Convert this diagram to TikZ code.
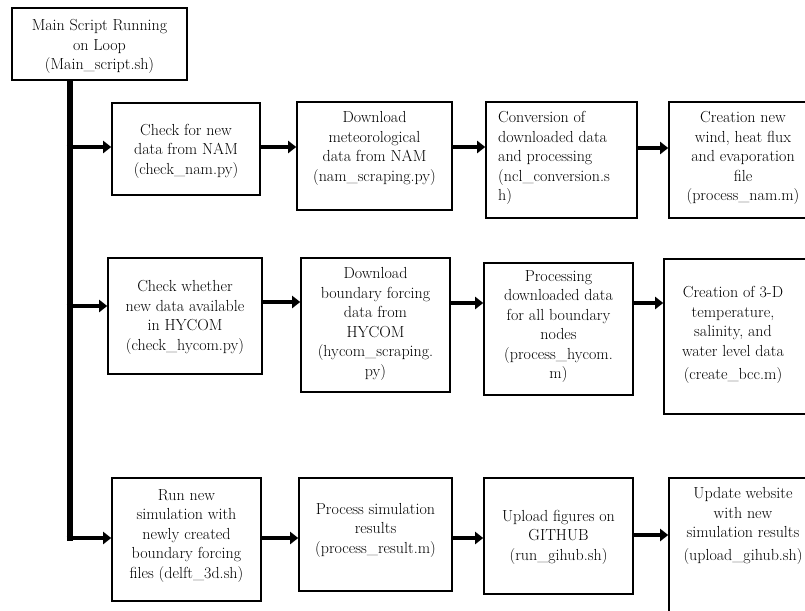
\documentclass[tikz,border=0pt]{standalone}
\usetikzlibrary{arrows.meta,fit}
\begin{document}
\begin{tikzpicture}[x=1pt,y=-1pt,
  stepbox/.style={draw, line width=1.6pt, inner sep=0pt},
  txt/.style={align=center, inner sep=0pt, font=\fontsize{16}{19.5}\selectfont},
  trunk/.style={line width=6pt},
  link/.style={line width=4.8pt, -{Triangle[length=8pt,width=12pt]}}]
  \useasboundingbox (0,0) rectangle (805,610);
  \clip (0,0) rectangle (805,610);
  \fill[white] (0,0) rectangle (805,610);

  % main loop script
  \node[stepbox, fit={(12,8) (187,80)}] (main) {};
  \node[txt] (tmain) at (99.5,46.5) {Main Script Running\\on Loop\\(Main\_script.sh)};

  % row 1: NAM meteorological forcing
  \node[stepbox, fit={(112,103) (260,195)}] (b11) {};
  \node[stepbox, fit={(297,102) (452,210)}] (b12) {};
  \node[stepbox, fit={(486,102) (637,218)}] (b13) {};
  \node[stepbox, fit={(669,102) (817,218)}] (b14) {};
  \node[txt] (t11) at (186,151) {Check for new\\data from NAM\\(check\_nam.py)};
  \node[txt] (t12) at (374.5,148.5) {Download\\meteorological\\data from NAM\\(nam\_scraping.py)};
  \node[txt, align=left, anchor=west] (t13) at (498,158) {Conversion of\\downloaded data\\and processing\\(ncl\_conversion.s\\h)};
  \node[txt] (t14) at (743,158) {Creation new\\wind, heat flux\\and evaporation\\file\\(process\_nam.m)};

  % row 2: HYCOM boundary forcing
  \node[stepbox, fit={(108,258) (262,374)}] (b21) {};
  \node[stepbox, fit={(301,258) (450,392)}] (b22) {};
  \node[stepbox, fit={(484,263) (633,395)}] (b23) {};
  \node[stepbox, fit={(664,259) (808,414)}] (b24) {};
  \node[txt] (t21) at (185,317.5) {Check whether\\new data available\\in HYCOM\\(check\_hycom.py)};
  \node[txt] (t22) at (375.5,324) {Download\\boundary forcing\\data from\\HYCOM\\(hycom\_scraping.\\py)};
  \node[txt] (t23) at (558.5,326.5) {Processing\\downloaded data\\for all boundary\\nodes\\(process\_hycom.\\m)};
  \node[txt] (t24) at (733,335) {Creation of 3-D\\temperature,\\salinity, and\\water level data\\[4pt](create\_bcc.m)};

  % row 3: simulation and publishing
  \node[stepbox, fit={(112,478) (261,601)}] (b31) {};
  \node[stepbox, fit={(299,478) (452,591)}] (b32) {};
  \node[stepbox, fit={(484,478) (633,594)}] (b33) {};
  \node[stepbox, fit={(669,478) (817,625)}] (b34) {};
  \node[txt] (t31) at (186.5,536) {Run new\\simulation with\\newly created\\boundary forcing\\files (delft\_3d.sh)};
  \node[txt] (t32) at (375.5,530) {Process simulation\\results\\(process\_result.m)};
  \node[txt] (t33) at (558.5,537) {Upload figures on\\GITHUB\\(run\_gihub.sh)};
  \node[txt] (t34) at (743,526) {Update website\\with new\\simulation results\\[3.5pt](upload\_gihub.sh)};

  % vertical trunk from the main script
  \coordinate (tx) at (69.5,0);
  \coordinate (ttop) at (main.south -| tx);
  \coordinate (tbot) at (69.5,541);
  \draw[trunk] (ttop) -- (tbot);
  \coordinate (r1) at (66.5,147);
  \coordinate (r2) at (66.5,306);
  \coordinate (r3) at (66.5,538);
  \draw[link] (r1) -- (b11.west |- r1);
  \draw[link] (r2) -- (b21.west |- r2);
  \draw[link] (r3) -- (b31.west |- r3);

  % connectors along each row
  \coordinate (y1) at (0,147);
  \coordinate (y1b) at (0,148);
  \draw[link] (b11.east |- y1) -- (b12.west |- y1);
  \draw[link] (b12.east |- y1) -- (b13.west |- y1);
  \draw[link] (b13.east |- y1b) -- (b14.west |- y1b);

  \coordinate (y2) at (0,302);
  \coordinate (y2b) at (0,303);
  \draw[link] (b21.east |- y2) -- (b22.west |- y2);
  \draw[link] (b22.east |- y2b) -- (b23.west |- y2b);
  \draw[link] (b23.east |- y2b) -- (b24.west |- y2b);

  \coordinate (y3) at (0,538);
  \coordinate (y3b) at (0,535);
  \draw[link] (b31.east |- y3) -- (b32.west |- y3);
  \draw[link] (b32.east |- y3) -- (b33.west |- y3);
  \draw[link] (b33.east |- y3b) -- (b34.west |- y3b);
\end{tikzpicture}
\end{document}
